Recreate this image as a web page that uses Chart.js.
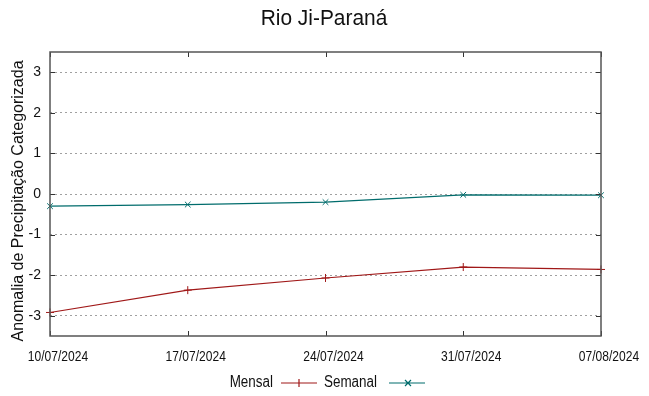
<!DOCTYPE html>
<html>
<head>
<meta charset="utf-8">
<script src="https://cdn.jsdelivr.net/npm/chart.js@4/dist/chart.umd.min.js"></script>
<style>
html,body{margin:0;padding:0;background:#fff;}
</style>
</head>
<body>
<canvas id="myChart" width="649" height="396"></canvas>
<script>
const dates=['10/07/2024','17/07/2024','24/07/2024','31/07/2024','07/08/2024'];
const mensal=[-2.92,-2.37,-2.07,-1.80,-1.86];
const semanal=[-0.30,-0.26,-0.20,-0.02,-0.03];
const yTicks=[-3,-2,-1,0,1,2,3];

const redColor='#a01818';
const tealColor='#006c6c';
const sans="'Liberation Sans', Arial, sans-serif";

// condensed text, like the narrow font of the original
function narrowText(ctx,text,x,y,size,squeeze,align){
    ctx.save();
    ctx.font=size+'px '+sans;
    ctx.textAlign=align;
    ctx.textBaseline='middle';
    ctx.translate(x,y);
    ctx.scale(squeeze,1);
    ctx.fillText(text,0,0);
    ctx.restore();
}

// title, frame, inward ticks, x labels and gnuplot style legend
const gnuplotLook={
    id:'gnuplotLook',
    afterDraw(chart){
        const ctx=chart.ctx;
        const a=chart.chartArea;
        const x=chart.scales.x;
        const y=chart.scales.y;
        ctx.save();
        ctx.fillStyle='#111';
        narrowText(ctx,'Rio Ji-Paraná',324,19,22,0.95,'center');

        // y axis title
        ctx.save();
        ctx.translate(19,201);
        ctx.rotate(-Math.PI/2);
        ctx.font='16px '+sans;
        ctx.textAlign='center';
        ctx.textBaseline='middle';
        ctx.fillText('Anomalia de Precipitação Categorizada',0,0);
        ctx.restore();

        dates.forEach((d,i)=>{
            narrowText(ctx,d,x.getPixelForValue(i)+8,357,14,0.86,'center');
        });

        ctx.strokeStyle='#333';
        ctx.lineWidth=1;
        ctx.beginPath();
        yTicks.forEach(v=>{
            const py=Math.round(y.getPixelForValue(v))+0.5;
            ctx.moveTo(a.left,py);ctx.lineTo(a.left+5,py);
            ctx.moveTo(a.right,py);ctx.lineTo(a.right-5,py);
        });
        dates.forEach((d,i)=>{
            const px=Math.round(x.getPixelForValue(i))+0.5;
            ctx.moveTo(px,a.bottom);ctx.lineTo(px,a.bottom-5);
            ctx.moveTo(px,a.top);ctx.lineTo(px,a.top+5);
        });
        ctx.stroke();

        ctx.strokeStyle='#555';
        ctx.lineWidth=1.5;
        ctx.strokeRect(a.left,a.top,a.right-a.left,a.bottom-a.top);

        // legend
        const ly=383;
        narrowText(ctx,'Mensal',273,ly,16,0.84,'right');
        narrowText(ctx,'Semanal',377,ly,16,0.84,'right');
        ctx.lineWidth=1.2;
        ctx.strokeStyle=redColor;
        ctx.beginPath();
        ctx.moveTo(281,ly);ctx.lineTo(317,ly);
        ctx.moveTo(299,ly-4);ctx.lineTo(299,ly+4);
        ctx.stroke();
        ctx.strokeStyle=tealColor;
        ctx.beginPath();
        ctx.moveTo(389,ly);ctx.lineTo(425,ly);
        ctx.moveTo(405,ly-3);ctx.lineTo(411,ly+3);
        ctx.moveTo(405,ly+3);ctx.lineTo(411,ly-3);
        ctx.stroke();
        ctx.restore();
    }
};

new Chart(document.getElementById('myChart'),{
    type:'line',
    data:{
        labels:dates,
        datasets:[{
            label:'Mensal',
            data:mensal,
            borderColor:redColor,
            backgroundColor:redColor,
            borderWidth:1.2,
            pointStyle:'cross',
            pointRadius:4,
            pointBorderWidth:1,
            tension:0
        },{
            label:'Semanal',
            data:semanal,
            borderColor:tealColor,
            backgroundColor:tealColor,
            borderWidth:1.2,
            pointStyle:'crossRot',
            pointRadius:4,
            pointBorderWidth:1,
            tension:0
        }]
    },
    options:{
        responsive:false,
        animation:false,
        devicePixelRatio:1,
        layout:{padding:{top:52,right:48,left:0,bottom:0}},
        plugins:{
            legend:{display:false},
            title:{display:false},
            tooltip:{enabled:false}
        },
        scales:{
            x:{
                type:'category',
                offset:false,
                grid:{display:false,drawTicks:false},
                border:{display:false},
                ticks:{display:false},
                afterFit(scale){scale.height=60;}
            },
            y:{
                min:-3.5,
                max:3.5,
                afterBuildTicks(scale){scale.ticks=yTicks.map(v=>({value:v}));},
                grid:{
                    color:'#a0a0a0',
                    lineWidth:1,
                    drawTicks:false
                },
                border:{display:false,dash:[2,3]},
                ticks:{
                    padding:9,
                    color:'#111',
                    font:{family:sans,size:14}
                },
                afterFit(scale){scale.width=50;}
            }
        }
    },
    plugins:[gnuplotLook]
});
</script>
</body>
</html>
